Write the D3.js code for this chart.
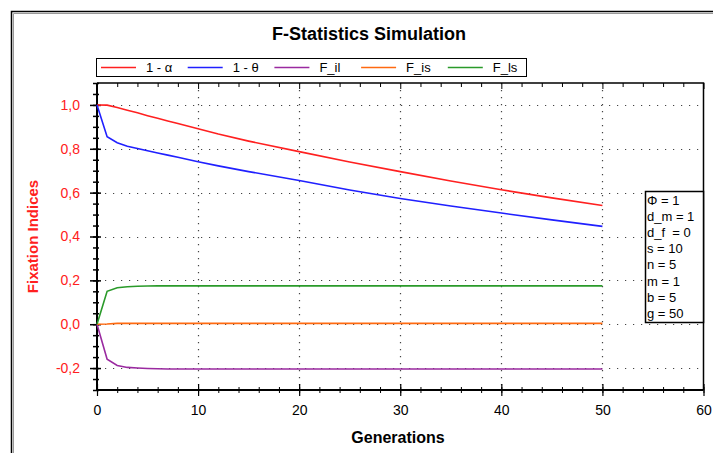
<!DOCTYPE html>
<html lang='en'>
<head>
<meta charset='UTF-8'>
<title>F-Statistics Simulation</title>
<script src='https://d3js.org/d3.v7.min.js'></script>
<style>
   body { margin: 0; background: #fff; }
   svg { display: block; font-family: 'Liberation Sans', Arial, sans-serif; }
</style>
</head>
<body>
<div id='chart'></div>
<script>
   const gens = [0, 1, 2, 3, 4, 5, 6, 7, 8, 10, 12, 15, 20, 25, 30, 35, 40, 45, 50];
   const oneMinusAlpha = [1, 0.999, 0.988, 0.976, 0.964, 0.951, 0.939, 0.927, 0.915, 0.891, 0.867, 0.835, 0.787, 0.740, 0.696, 0.653, 0.613, 0.576, 0.541];
   const oneMinusTheta = [1, 0.855, 0.828, 0.812, 0.801, 0.791, 0.781, 0.771, 0.761, 0.741, 0.722, 0.696, 0.655, 0.612, 0.573, 0.539, 0.507, 0.476, 0.446];
   const fIl = [0, -0.160, -0.188, -0.197, -0.200, -0.202, -0.203, -0.204, -0.204, -0.204, -0.204, -0.204, -0.204, -0.204, -0.204, -0.204, -0.204, -0.204, -0.204];
   const fIs = [0, 0.001, 0.004, 0.004, 0.004, 0.004, 0.004, 0.004, 0.004, 0.004, 0.004, 0.004, 0.004, 0.004, 0.004, 0.004, 0.004, 0.004, 0.004];
   const fLs = [0, 0.150, 0.166, 0.171, 0.173, 0.174, 0.175, 0.175, 0.175, 0.175, 0.175, 0.175, 0.175, 0.175, 0.175, 0.175, 0.175, 0.175, 0.175];

   const seriesNames = ['1 - α', '1 - θ', 'F_il', 'F_is', 'F_ls'];
   const seriesColors = ['#ff2020', '#2020ff', '#9a2aa0', '#ff6a10', '#2a9a2a'];
   const seriesValues = [oneMinusAlpha, oneMinusTheta, fIl, fIs, fLs];

   const yTicks = [-0.2, 0, 0.2, 0.4, 0.6, 0.8, 1.0];
   const xTicks = [0, 10, 20, 30, 40, 50, 60];
   const params = ['Φ = 1', 'd_m = 1', 'd_f  = 0', 's = 10', 'n = 5', 'm = 1', 'b = 5', 'g = 50'];

   const W = 713, H = 453;
   const plot = { left: 97, right: 703.5, top: 83, bottom: 390 };

   const svg = d3.select('#chart').append('svg').attr('width', W).attr('height', H);

   // outer frame (runs off the right/bottom edge)
   svg.append('rect').attr('x', 11.5).attr('y', 11.5).attr('width', 760).attr('height', 500)
      .attr('fill', 'none').attr('stroke', '#000').attr('stroke-width', 1.5);
   svg.append('path').attr('d', `M13.5,${H + 5}V13.5H${W + 5}`)
      .attr('fill', 'none').attr('stroke', '#999').attr('stroke-width', 1);

   const x = d3.scaleLinear().domain([0, 60]).range([plot.left, plot.right]);
   const y = d3.scaleLinear().domain([-0.3, 1.1]).range([plot.bottom, plot.top]);

   const xMinor = d3.range(0, 61, 2);
   const yMinor = d3.range(-6, 23).map(i => i * 0.05);

   // dotted grid
   const grid = svg.append('g').attr('stroke', '#444').attr('stroke-width', 1.2).attr('stroke-dasharray', '1.2,6.8');
   grid.selectAll('.hg').data(yTicks).join('line')
      .attr('x1', plot.left).attr('x2', plot.right)
      .attr('y1', d => Math.round(y(d)) + 0.5).attr('y2', d => Math.round(y(d)) + 0.5);
   grid.selectAll('.vg').data(xTicks.slice(1, -1)).join('line')
      .attr('y1', plot.top).attr('y2', plot.bottom)
      .attr('x1', d => Math.round(x(d)) + 0.5).attr('x2', d => Math.round(x(d)) + 0.5)
      .attr('stroke-dasharray', '1.2,5.8');

   // top and right border
   svg.append('path').attr('d', `M${plot.left},${plot.top}H${plot.right}V${plot.bottom}`)
      .attr('fill', 'none').attr('stroke', '#000').attr('stroke-width', 1.5);
   const topAxis = svg.append('g').attr('transform', `translate(0,${plot.top})`)
      .call(d3.axisBottom(x).tickValues(xMinor).tickSize(4).tickFormat(''));
   topAxis.select('.domain').remove();
   topAxis.selectAll('.tick line').attr('y2', d => d % 10 === 0 ? 6 : 4);

   // left axis
   const leftMinor = svg.append('g').attr('transform', `translate(${plot.left},0)`)
      .call(d3.axisLeft(y).tickValues(yMinor).tickFormat(''));
   leftMinor.select('.domain').remove();
   leftMinor.selectAll('.tick line').attr('x1', -4).attr('x2', 2).attr('stroke-width', 1.5);

   const leftAxis = svg.append('g').attr('transform', `translate(${plot.left},0)`)
      .call(d3.axisLeft(y).tickValues(yTicks).tickFormat(d => d3.format('.1f')(d).replace('.', ',').replace('−', '-')));
   leftAxis.select('.domain').attr('d', `M0,${plot.top}V${plot.bottom}`).attr('stroke-width', 2);
   leftAxis.selectAll('.tick line').attr('x1', -7).attr('x2', 4).attr('stroke-width', 1.5);
   leftAxis.selectAll('.tick text').attr('x', -17).attr('fill', '#ff2020').attr('font-size', 14);

   // bottom axis
   const bottomMinor = svg.append('g').attr('transform', `translate(0,${plot.bottom})`)
      .call(d3.axisBottom(x).tickValues(xMinor).tickFormat(''));
   bottomMinor.select('.domain').remove();
   bottomMinor.selectAll('.tick line').attr('y1', -3).attr('y2', 3);

   const bottomAxis = svg.append('g').attr('transform', `translate(0,${plot.bottom})`)
      .call(d3.axisBottom(x).tickValues(xTicks).tickFormat(d3.format('d')));
   bottomAxis.select('.domain').attr('d', `M${plot.left},0H${plot.right}`).attr('stroke-width', 2);
   bottomAxis.selectAll('.tick line').attr('y1', -6).attr('y2', 6).attr('stroke-width', 1.2);
   bottomAxis.selectAll('.tick text').attr('y', 15).attr('fill', '#000').attr('font-size', 14);

   // series
   const line = d3.line().x((d, i) => x(gens[i])).y(d => y(d));
   seriesValues.forEach((vals, k) => {
      svg.append('path').attr('d', line(vals))
         .attr('fill', 'none').attr('stroke', seriesColors[k]).attr('stroke-width', 1.6);
   });

   // title and axis titles
   svg.append('text').attr('x', 369).attr('y', 40).attr('text-anchor', 'middle')
      .attr('font-size', 18).attr('font-weight', 'bold').text('F-Statistics Simulation');
   svg.append('text').attr('x', 398).attr('y', 443).attr('text-anchor', 'middle')
      .attr('font-size', 16).attr('font-weight', 'bold').text('Generations');
   svg.append('text').attr('transform', 'translate(38,236.5) rotate(-90)').attr('text-anchor', 'middle')
      .attr('font-size', 15).attr('font-weight', 'bold').attr('fill', '#ff2020').text('Fixation Indices');

   // legend
   const legend = svg.append('g').attr('transform', 'translate(96,58)');
   legend.append('rect').attr('x', 0.5).attr('y', 0.5).attr('width', 430).attr('height', 18)
      .attr('fill', '#fff').attr('stroke', '#000');
   const item = legend.selectAll('.item').data(seriesNames).join('g')
      .attr('transform', (d, i) => `translate(${5 + i * 86.7},0)`);
   item.append('line').attr('x1', 0).attr('x2', 35).attr('y1', 9.5).attr('y2', 9.5)
      .attr('stroke', (d, i) => seriesColors[i]).attr('stroke-width', 1.5);
   item.append('text').attr('x', 45).attr('y', 14).attr('font-size', 13).text(d => d);

   // parameter box
   const pbox = svg.append('g').attr('transform', 'translate(645,191)');
   pbox.append('rect').attr('x', 0.5).attr('y', 0.5).attr('width', 58).attr('height', 131)
      .attr('fill', '#fff').attr('stroke', '#000').attr('stroke-width', 1.5);
   pbox.selectAll('text').data(params).join('text')
      .attr('x', 2).attr('y', (d, i) => 14 + i * 16.1).attr('font-size', 13)
      .style('white-space', 'pre').text(d => d);
</script>
</body>
</html>
